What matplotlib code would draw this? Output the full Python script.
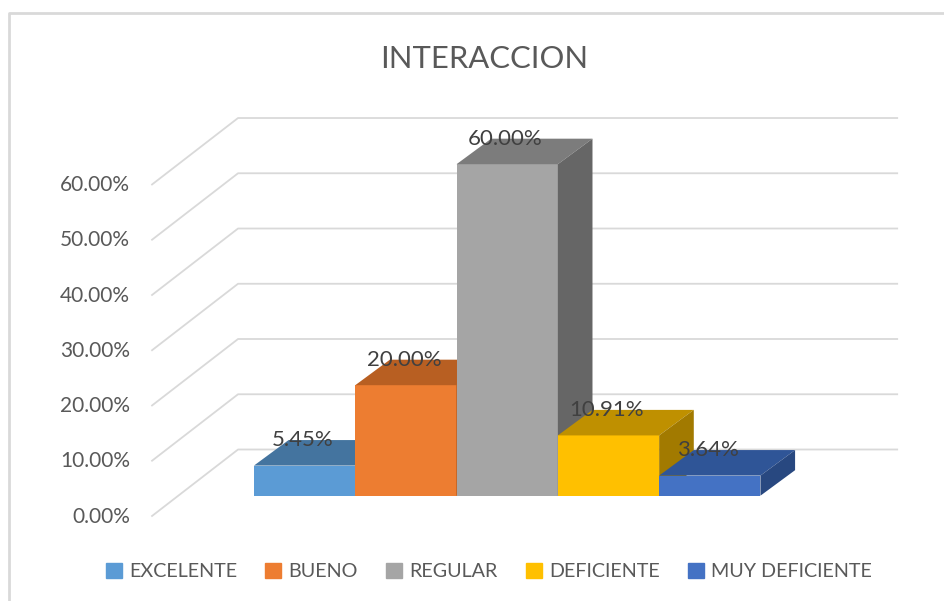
import matplotlib
matplotlib.use('Agg')
import matplotlib.pyplot as plt
from matplotlib.patches import Polygon, Rectangle

plt.rcParams['font.family'] = ['Lato', 'DejaVu Sans']

categories = ['EXCELENTE', 'BUENO', 'REGULAR', 'DEFICIENTE', 'MUY DEFICIENTE']
values = [5.45, 20.00, 60.00, 10.91, 3.64]
y_ticks = [0, 10, 20, 30, 40, 50, 60]

front_colors = ['#5B9BD5', '#ED7D31', '#A5A5A5', '#FFC000', '#4472C4']
top_colors = ['#44749F', '#B85F22', '#7C7C7C', '#BF9000', '#2F5597']
side_colors = ['#3A6285', '#9C501D', '#666666', '#A27A00', '#284880']
text_color = '#595959'
grid_color = '#D9D9D9'

fig = plt.figure(figsize=(9.45, 6.01), dpi=100)
ax = fig.add_axes([0, 0, 1, 1])
ax.set_xlim(-3.007, 6.322)
ax.set_ylim(-19.06, 89.72)
ax.axis('off')

# fake 3d: depth of a bar, and the floor corners of the wall
bar_dx, bar_dy = 0.342, 4.62
floor_left, floor_back, floor_right = -1.506, -0.657, 5.85
floor_front_y, floor_back_y = -3.67, 8.36

# chart frame, runs off the right and bottom of the picture
ax.plot([0.0095, 0.0095, 1], [0, 0.978, 0.978], transform=ax.transAxes,
        color=grid_color, lw=2, clip_on=False)

for t in y_ticks:
    ax.plot([floor_left, floor_back, floor_right],
            [t + floor_front_y, t + floor_back_y, t + floor_back_y],
            color=grid_color, lw=1.3, zorder=1)
    ax.text(floor_left - 0.215, t + floor_front_y - 0.1, f'{t:.2f}%', ha='right', va='center',
            fontsize=15, color=text_color)

for i, v in enumerate(values):
    left, right = i - 0.5, i + 0.5
    ax.bar(i, v, width=1, color=front_colors[i], zorder=2 + i)
    ax.add_patch(Polygon([(left, v), (right, v), (right + bar_dx, v + bar_dy), (left + bar_dx, v + bar_dy)],
                         color=top_colors[i], lw=0, zorder=2 + i))
    ax.add_patch(Polygon([(right, 0), (right + bar_dx, bar_dy), (right + bar_dx, v + bar_dy), (right, v)],
                         color=side_colors[i], lw=0, zorder=2 + i))

for i, v in enumerate(values):
    ax.text(i - 0.02, v + bar_dy, f'{v:.2f}%', ha='center', va='center', fontsize=16,
            color='#404040', zorder=10)

fig.text(0.5125, 0.901, 'INTERACCION', ha='center', va='center', fontsize=22.3, color=text_color)

handles = [Rectangle((0, 0), 1, 1, color=c) for c in front_colors]
ax.legend(handles, categories, ncol=5, loc='center', bbox_to_anchor=(0.5175, 0.049),
          frameon=False, fontsize=14.2, labelcolor=text_color, handlelength=0.8,
          handleheight=0.8, handletextpad=0.36, columnspacing=1.45)

fig.savefig('out.png', dpi=100)
